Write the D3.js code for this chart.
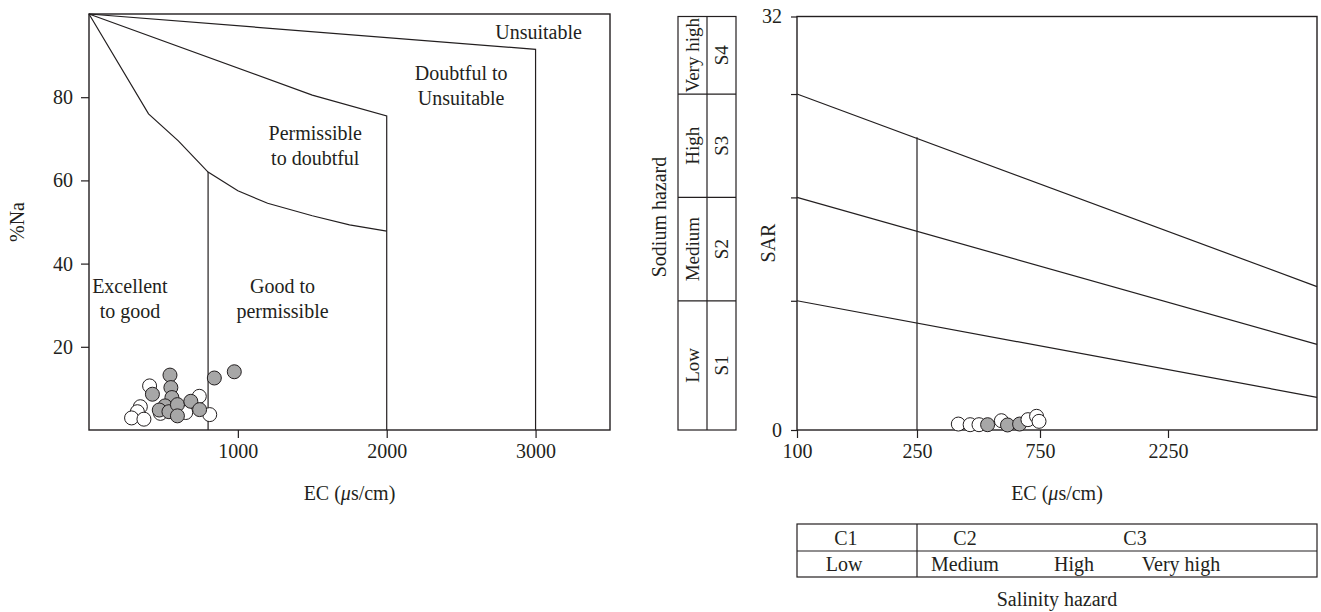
<!DOCTYPE html>
<html>
<head>
<meta charset="utf-8">
<script src="https://cdn.jsdelivr.net/npm/d3@7"></script>
<style>
    body { margin: 0; background: #fff; }
    svg text { font-family: "Liberation Serif", "DejaVu Serif", serif; font-size: 20px; fill: #231f20; }
</style>
</head>
<body>
<div id="chart"></div>
<script>
// ---- Wilcox diagram (left): EC vs %Na ----
const naTicks = [20, 40, 60, 80];
const ecTicksLeft = [1000, 2000, 3000];
// class boundaries as [EC, %Na]
const naExcellentLine = [[0, 100], [400, 76], [600, 69.5], [800, 62], [1000, 57.5], [1200, 54.5], [1500, 51.5], [1750, 49.3], [2000, 47.8]];
const naGoodLine = [[800, 62], [800, 0]];
const naPermissibleLine = [[0, 100], [1500, 80.5], [2000, 75.5], [2000, 0]];
const naDoubtfulLine = [[0, 100], [3000, 91.5], [3000, 0]];
const zoneNames = [["Unsuitable"], ["Doubtful to", "Unsuitable"], ["Permissible", "to doubtful"], ["Excellent", "to good"], ["Good to", "permissible"]];
// samples [EC, %Na]
const naWhite = [[407, 10.6], [741, 8.1], [345, 5.6], [325, 4.4], [286, 2.9], [369, 2.6], [480, 4.0], [650, 4.2], [811, 3.7]];
const naGray = [[544, 13.2], [550, 10.2], [426, 8.6], [557, 7.8], [511, 5.8], [472, 4.8], [537, 4.4], [594, 6.1], [594, 3.4], [684, 6.9], [743, 4.9], [842, 12.5], [976, 14]];

// ---- USSL diagram (right): EC vs SAR ----
const ecTicksRight = [100, 250, 750, 2250];
const ecBreaks = [100, 250, 750, 2250, 5000];
const sarTicks = [0, 10, 18, 26, 32];
// boundaries as [EC, SAR] (straight on the chart)
const sarS1S2 = [[100, 10], [5000, 2.53]];
const sarS2S3 = [[100, 18], [5000, 6.63]];
const sarS3S4 = [[100, 26], [5000, 11.1]];
const sarC1C2 = [[250, 0], [250, 22.65]];
// samples [EC, SAR]
const sarWhite = [[418, 0.46], [466, 0.41], [502, 0.41], [593, 0.72], [701, 0.8], [736, 1.06], [746, 0.67]];
const sarGray = [[537, 0.41], [618, 0.39], [667, 0.46]];

const sodiumBounds = [0, 10, 18, 26, 32];
const sodiumClasses = ["Low", "Medium", "High", "Very high"];
const sodiumCodes = ["S1", "S2", "S3", "S4"];
const salinityCodes = ["C1", "C2", "C3"];
const salinityClasses = ["Low", "Medium", "High", "Very high"];

const ink = "#231f20", grayFill = "#a7a7a7";

const svg = d3.select("#chart").append("svg")
    .attr("width", 1321)
    .attr("height", 612)
    .style("display", "block");

// ================= left chart =================
const xL = d3.scaleLinear().domain([0, 3500]).range([89, 610]);
const yL = d3.scaleLinear().domain([0, 100]).range([430, 14]);

const left = svg.append("g");

left.append("rect")
    .attr("x", xL(0)).attr("y", yL(100))
    .attr("width", xL(3500) - xL(0)).attr("height", yL(0) - yL(100))
    .attr("fill", "none").attr("stroke", ink).attr("stroke-width", 1.4);

left.append("g")
    .attr("transform", "translate(" + xL(0) + ",0)")
    .call(d3.axisLeft(yL).tickValues(naTicks).tickSize(8).tickPadding(8))
    .call(g => g.select(".domain").remove());

left.append("g")
    .attr("transform", "translate(0," + yL(0) + ")")
    .call(d3.axisBottom(xL).tickValues(ecTicksLeft).tickSize(8).tickPadding(6).tickFormat(d3.format("d")))
    .call(g => g.select(".domain").remove());

const lineL = d3.line().x(d => xL(d[0])).y(d => yL(d[1]));
[naExcellentLine, naGoodLine, naPermissibleLine, naDoubtfulLine].forEach(pts => {
    left.append("path")
        .datum(pts)
        .attr("fill", "none")
        .attr("stroke", ink)
        .attr("stroke-width", 1.2)
        .attr("d", lineL);
});

// zone labels, anchor [EC, %Na] of first baseline
const zoneAnchors = [[3020, 94], [2500, 84.2], [1520, 69.7], [275, 33], [1300, 33]];
zoneNames.forEach((lines, i) => {
    const t = left.append("text")
        .attr("text-anchor", "middle")
        .attr("x", xL(zoneAnchors[i][0]))
        .attr("y", yL(zoneAnchors[i][1]));
    lines.forEach((s, j) => {
        t.append("tspan").attr("x", xL(zoneAnchors[i][0])).attr("dy", j ? 25 : 0).text(s);
    });
});

const dotsL = naWhite.map(d => ({ec: d[0], v: d[1], fill: "#fff"}))
    .concat(naGray.map(d => ({ec: d[0], v: d[1], fill: grayFill})));
left.selectAll("circle.pt")
    .data(dotsL)
    .join("circle")
    .attr("cx", d => xL(d.ec))
    .attr("cy", d => yL(d.v))
    .attr("r", 7)
    .attr("fill", d => d.fill)
    .attr("stroke", ink)
    .attr("stroke-width", 1);

left.append("text")
    .attr("transform", "translate(24,222) rotate(-90)")
    .attr("text-anchor", "middle")
    .text("%Na");

const ecTitleL = left.append("text")
    .attr("x", (xL(0) + xL(3500)) / 2).attr("y", 500)
    .attr("text-anchor", "middle");
ecTitleL.append("tspan").text("EC (");
ecTitleL.append("tspan").style("font-style", "italic").text("\u03bc");
ecTitleL.append("tspan").text("s/cm)");

// ================= right chart =================
const xR = d3.scaleLinear().domain(ecBreaks).range([797, 917, 1040, 1168, 1317]);
const yR = d3.scaleLinear().domain([0, 32]).range([430, 16.5]);

const right = svg.append("g");

right.append("rect")
    .attr("x", xR(100)).attr("y", yR(32))
    .attr("width", xR(5000) - xR(100)).attr("height", yR(0) - yR(32))
    .attr("fill", "none").attr("stroke", ink).attr("stroke-width", 1.4);

right.append("g")
    .attr("transform", "translate(" + xR(100) + ",0)")
    .call(d3.axisLeft(yR).tickValues(sarTicks).tickSize(6).tickPadding(9)
        .tickFormat(d => (d === 0 || d === 32) ? d : ""))
    .call(g => g.select(".domain").remove());

right.append("g")
    .attr("transform", "translate(0," + yR(0) + ")")
    .call(d3.axisBottom(xR).tickValues(ecTicksRight).tickSize(8).tickPadding(6).tickFormat(d3.format("d")))
    .call(g => g.select(".domain").remove());

const lineR = d3.line().x(d => xR(d[0])).y(d => yR(d[1]));
[sarS1S2, sarS2S3, sarS3S4, sarC1C2].forEach(pts => {
    right.append("path")
        .datum(pts)
        .attr("fill", "none")
        .attr("stroke", ink)
        .attr("stroke-width", 1.2)
        .attr("d", lineR);
});

const dotsR = sarWhite.map(d => ({ec: d[0], v: d[1], fill: "#fff"}))
    .concat(sarGray.map(d => ({ec: d[0], v: d[1], fill: grayFill})))
    .sort((a, b) => a.ec - b.ec);
right.selectAll("circle.pt")
    .data(dotsR)
    .join("circle")
    .attr("cx", d => xR(d.ec))
    .attr("cy", d => yR(d.v))
    .attr("r", 7)
    .attr("fill", d => d.fill)
    .attr("stroke", ink)
    .attr("stroke-width", 1);

right.append("text")
    .attr("transform", "translate(775,243) rotate(-90)")
    .attr("text-anchor", "middle")
    .text("SAR");

const ecTitleR = right.append("text")
    .attr("x", (xR(100) + xR(5000)) / 2).attr("y", 500)
    .attr("text-anchor", "middle");
ecTitleR.append("tspan").text("EC (");
ecTitleR.append("tspan").style("font-style", "italic").text("\u03bc");
ecTitleR.append("tspan").text("s/cm)");

// sodium hazard table
const sodX = [678, 707, 736];
const sod = right.append("g");
sod.append("rect")
    .attr("x", sodX[0]).attr("y", yR(32))
    .attr("width", sodX[2] - sodX[0]).attr("height", yR(0) - yR(32))
    .attr("fill", "none").attr("stroke", ink).attr("stroke-width", 1.2);
sod.append("line")
    .attr("x1", sodX[1]).attr("x2", sodX[1]).attr("y1", yR(32)).attr("y2", yR(0))
    .attr("stroke", ink).attr("stroke-width", 1.2);
sod.selectAll("line.row")
    .data(sodiumBounds.slice(1, -1))
    .join("line")
    .attr("x1", sodX[0]).attr("x2", sodX[2])
    .attr("y1", d => yR(d)).attr("y2", d => yR(d))
    .attr("stroke", ink).attr("stroke-width", 1.2);
sodiumClasses.forEach((s, i) => {
    const cy = (yR(sodiumBounds[i]) + yR(sodiumBounds[i + 1])) / 2;
    sod.append("text")
        .attr("transform", "translate(" + (sodX[0] + sodX[1]) / 2 + "," + cy + ") rotate(-90)")
        .attr("text-anchor", "middle").attr("dy", "0.35em")
        .style("font-size", "19px")
        .text(s);
    sod.append("text")
        .attr("transform", "translate(" + (sodX[1] + sodX[2]) / 2 + "," + cy + ") rotate(-90)")
        .attr("text-anchor", "middle").attr("dy", "0.35em")
        .style("font-size", "19px")
        .text(sodiumCodes[i]);
});
right.append("text")
    .attr("transform", "translate(666,217) rotate(-90)")
    .attr("text-anchor", "middle")
    .text("Sodium hazard");

// salinity hazard table
const salY = [524, 551, 577];
const sal = right.append("g");
sal.append("rect")
    .attr("x", xR(100)).attr("y", salY[0])
    .attr("width", xR(5000) - xR(100)).attr("height", salY[2] - salY[0])
    .attr("fill", "none").attr("stroke", ink).attr("stroke-width", 1.2);
sal.append("line")
    .attr("x1", xR(100)).attr("x2", xR(5000)).attr("y1", salY[1]).attr("y2", salY[1])
    .attr("stroke", ink).attr("stroke-width", 1.2);
sal.append("line")
    .attr("x1", xR(250)).attr("x2", xR(250)).attr("y1", salY[0]).attr("y2", salY[2])
    .attr("stroke", ink).attr("stroke-width", 1.2);
const codeAt = [161, 445, 1863], classAt = [159, 445, 1148, 2490];
salinityCodes.forEach((s, i) => {
    sal.append("text").attr("x", xR(codeAt[i])).attr("y", salY[1] - 6)
        .attr("text-anchor", "middle").text(s);
});
salinityClasses.forEach((s, i) => {
    sal.append("text").attr("x", xR(classAt[i])).attr("y", salY[2] - 6)
        .attr("text-anchor", "middle").text(s);
});
right.append("text")
    .attr("x", (xR(100) + xR(5000)) / 2).attr("y", 606)
    .attr("text-anchor", "middle")
    .text("Salinity hazard");

// axis text styling
svg.selectAll(".tick text").attr("fill", ink).style("font-size", "20px").style("font-family", "'Liberation Serif', serif");
svg.selectAll(".tick line").attr("stroke", ink).attr("stroke-width", 1.2);
</script>
</body>
</html>
